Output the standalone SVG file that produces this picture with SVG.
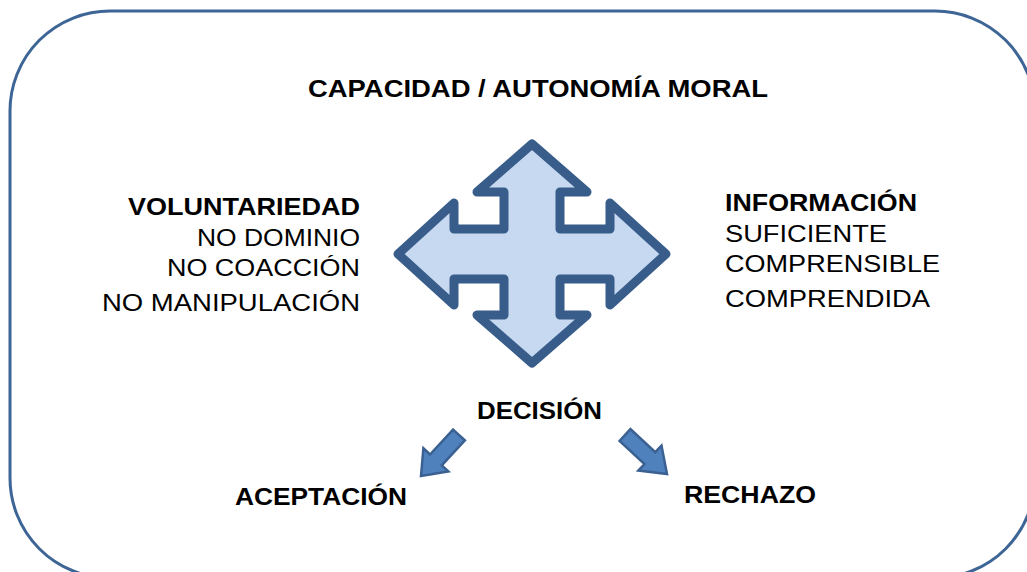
<svg xmlns="http://www.w3.org/2000/svg" width="1027" height="572" viewBox="0 0 1027 572">
<style>
.t{font-family:"Liberation Sans",Arial,sans-serif;font-size:24px;fill:#000}
.b{font-weight:bold}
.small{fill:#4f81bd;stroke:#3b6092;stroke-width:2.5;stroke-linejoin:miter}
</style>
<rect width="1027" height="572" fill="#ffffff"/>
<g id="frame">
<rect x="10" y="11" width="1025" height="567" rx="100" ry="100" fill="none" stroke="#3d6595" stroke-width="3"/>
</g>
<g id="title">
<text class="t b" x="308" y="97" textLength="460" lengthAdjust="spacingAndGlyphs">CAPACIDAD / AUTONOMÍA MORAL</text>
</g>
<g id="cross">
<path d="M532,144 L587,192 L560,192 L560,229 L610,229 L610,203 L666,254 L610,305 L610,279 L560,279 L560,315 L587,315 L532,363 L477,315 L504,315 L504,279 L454,279 L454,305 L398,254 L454,203 L454,229 L504,229 L504,192 L477,192 Z" fill="#c6d9f1" stroke="#385d8a" stroke-width="9" stroke-linejoin="round"/>
</g>
<g id="voluntariedad">
<text class="t b" x="128" y="215" textLength="232" lengthAdjust="spacingAndGlyphs">VOLUNTARIEDAD</text>
<text class="t" x="197" y="246" textLength="163" lengthAdjust="spacingAndGlyphs">NO DOMINIO</text>
<text class="t" x="167" y="276" textLength="193" lengthAdjust="spacingAndGlyphs">NO COACCIÓN</text>
<text class="t" x="102" y="311" textLength="258" lengthAdjust="spacingAndGlyphs">NO MANIPULACIÓN</text>
</g>
<g id="informacion">
<text class="t b" x="725" y="211" textLength="192" lengthAdjust="spacingAndGlyphs">INFORMACIÓN</text>
<text class="t" x="725" y="242" textLength="162" lengthAdjust="spacingAndGlyphs">SUFICIENTE</text>
<text class="t" x="725" y="272" textLength="215" lengthAdjust="spacingAndGlyphs">COMPRENSIBLE</text>
<text class="t" x="725" y="307" textLength="205" lengthAdjust="spacingAndGlyphs">COMPRENDIDA</text>
</g>
<g id="decision">
<text class="t b" x="477" y="419" textLength="125" lengthAdjust="spacingAndGlyphs">DECISIÓN</text>
</g>
<g id="aceptacion">
<text class="t b" x="235" y="505" textLength="172" lengthAdjust="spacingAndGlyphs">ACEPTACIÓN</text>
</g>
<g id="rechazo">
<text class="t b" x="684" y="503" textLength="132" lengthAdjust="spacingAndGlyphs">RECHAZO</text>
</g>
<g id="connectors">
<polygon class="small" points="453.1,429.6 464.9,440.4 441.8,465.3 448.4,471.5 421,476 423.4,448.3 430,454.5"/>
<polygon class="small" points="630.4,429.1 619.6,440.9 644.5,464 638.3,470.6 667,474 661.5,445.6 655.3,452.2"/>
</g>
</svg>
